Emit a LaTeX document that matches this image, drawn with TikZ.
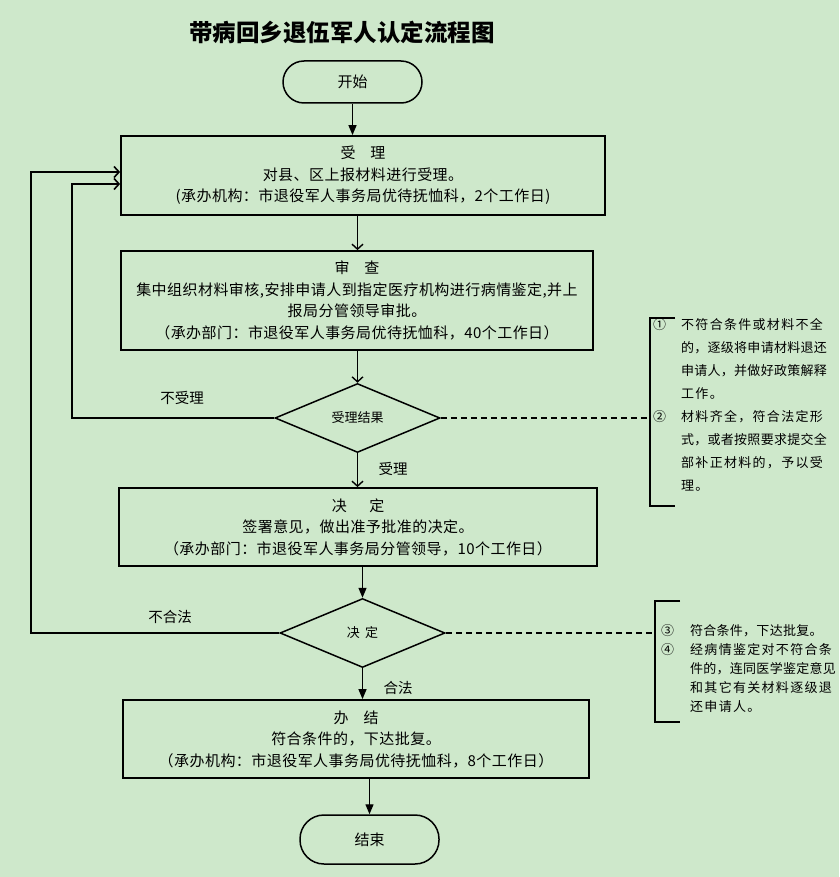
\documentclass[tikz,border=0pt]{standalone}
\usepackage{fontspec}
\setmainfont{Noto Sans CJK SC}
\newfontfamily\boxfont[LetterSpace=3]{Noto Sans CJK SC}
\newfontfamily\notefont[LetterSpace=10]{Noto Sans CJK SC}
\newfontfamily\notenarrow[LetterSpace=2]{Noto Sans CJK SC}
\usetikzlibrary{arrows.meta,shapes.geometric}
\definecolor{bg}{RGB}{206,232,203}
\tikzset{
  box/.style={draw, line width=1.8pt, rectangle, inner sep=0pt, align=center,
    font=\boxfont\fontsize{15}{21.5}\selectfont},
  term/.style={draw, line width=1.5pt, rectangle, rounded corners=21pt, inner sep=0pt,
    font=\fontsize{15}{18}\selectfont},
  dia/.style={draw, line width=1.5pt, diamond, inner sep=0pt, minimum width=165pt,
    minimum height=69pt, font=\fontsize{13}{15}\selectfont},
  farr/.style={line width=1.4pt, -{Triangle[length=10pt,width=8pt]}},
  oarr/.style={line width=1.4pt, -{Straight Barb[length=5pt,width=11pt]}},
  fb/.style={line width=1.6pt},
  dline/.style={line width=1.3pt, dash pattern=on 6pt off 4pt},
  brk/.style={line width=1.8pt},
  lbl/.style={font=\fontsize{14.5}{17}\selectfont, inner sep=0pt},
  note/.style={font=\notefont\fontsize{13}{23}\selectfont, align=left, anchor=north west, inner sep=0pt},
}
\begin{document}
\begin{tikzpicture}[x=1pt,y=-1pt]
\fill[bg] (0,0) rectangle (839,877);
\useasboundingbox (0,0) rectangle (839,877);

\node[inner sep=0pt, font=\fontsize{23.5}{26}\selectfont\bfseries] (title) at (342,32) {带病回乡退伍军人认定流程图};

\node[term, minimum width=139pt, minimum height=42pt] (start) at (352.5,82) {开始};

\node[box, minimum width=484pt, minimum height=79pt] (b1) at (363,175.5)
  {受\hspace{1em}理\\对县、区上报材料进行受理。\\(承办机构：市退役军人事务局优待抚恤科，2个工作日)};

\node[box, minimum width=472pt, minimum height=99pt] (b2) at (357,300.5)
  {审\hspace{1em}查\\集中组织材料审核,安排申请人到指定医疗机构进行病情鉴定,并上\\报局分管领导审批。\\（承办部门：市退役军人事务局优待抚恤科，40个工作日）};

\node[dia] (d1) at (357.5,418) {受理结果};

\node[box, minimum width=478pt, minimum height=78pt] (b3) at (358,527)
  {决\hspace{1.5em}定\\签署意见，做出准予批准的决定。\\（承办部门：市退役军人事务局分管领导，10个工作日）};

\node[dia] (d2) at (362.5,633) {决\hspace{0.4em}定};

\node[box, minimum width=466pt, minimum height=78pt] (b4) at (356,739)
  {办\hspace{1em}结\\符合条件的，下达批复。\\（承办机构：市退役军人事务局优待抚恤科，8个工作日）};

\node[term, rounded corners=24pt, minimum width=139pt, minimum height=49pt] (end) at (369.5,839.5) {结束};

% main flow
\draw[farr] (start.south) -- (start.south |- b1.north);
\draw[oarr] (b1.south -| d1.north) -- (b2.north -| d1.north);
\draw[oarr] (b2.south -| d1.north) -- (d1.north);
\draw[oarr] (d1.south) -- (b3.north -| d1.south);
\draw[farr] (b3.south -| d2.north) -- (d2.north);
\draw[farr] (d2.south) -- (b4.north -| d2.south);
\draw[farr] (b4.south -| end.north) -- (end.north);

% feedback loops
\coordinate (c1) at (72,184);
\coordinate (c2) at (31,172);
\draw[fb, -{Straight Barb[length=5pt,width=11pt]}] (d1.west) -| (c1) -- (b1.west |- c1);
\draw[fb, -{Straight Barb[length=5pt,width=11pt]}] (d2.west) -| (c2) -- (b1.west |- c2);

% labels
\node[lbl] (l1) at (182,398) {不受理};
\node[lbl] (l2) at (393,469) {受理};
\node[lbl] (l3) at (170,617) {不合法};
\node[lbl] (l4) at (398,688) {合法};

% bracket 1
\coordinate (k1) at (650,418);
\draw[dline] (d1.east) -- (k1);
\draw[brk] (675,318) -- (650,318) -- (650,506) -- (675,506);
\node[note] (n1) at (653,318) {①};
\node[note] (t1) at (681,318) {不符合条件或材料不全\\{\notenarrow 的，逐级将申请材料退还}\\{\notenarrow 申请人，并做好政策解释}\\工作。};
\node[note] (n2) at (653,410) {②};
\node[note] (t2) at (681,410) {材料齐全，符合法定形\\{\notenarrow 式，或者按照要求提交全}\\部补正材料的，予以受\\理。};

% bracket 2
\coordinate (k2) at (655,633);
\draw[dline] (d2.east) -- (k2);
\draw[brk] (680,601) -- (655,601) -- (655,722) -- (680,722);
\node[note, font=\notefont\fontsize{13}{19}\selectfont] (n3) at (661,624) {③\\④};
\node[note, font=\notefont\fontsize{13}{19}\selectfont] (t3) at (690,624) {{\notenarrow 符合条件，下达批复。}\\经病情鉴定对不符合条\\{\notenarrow 件的，连同医学鉴定意见}\\和其它有关材料逐级退\\还申请人。};
\end{tikzpicture}
\end{document}
